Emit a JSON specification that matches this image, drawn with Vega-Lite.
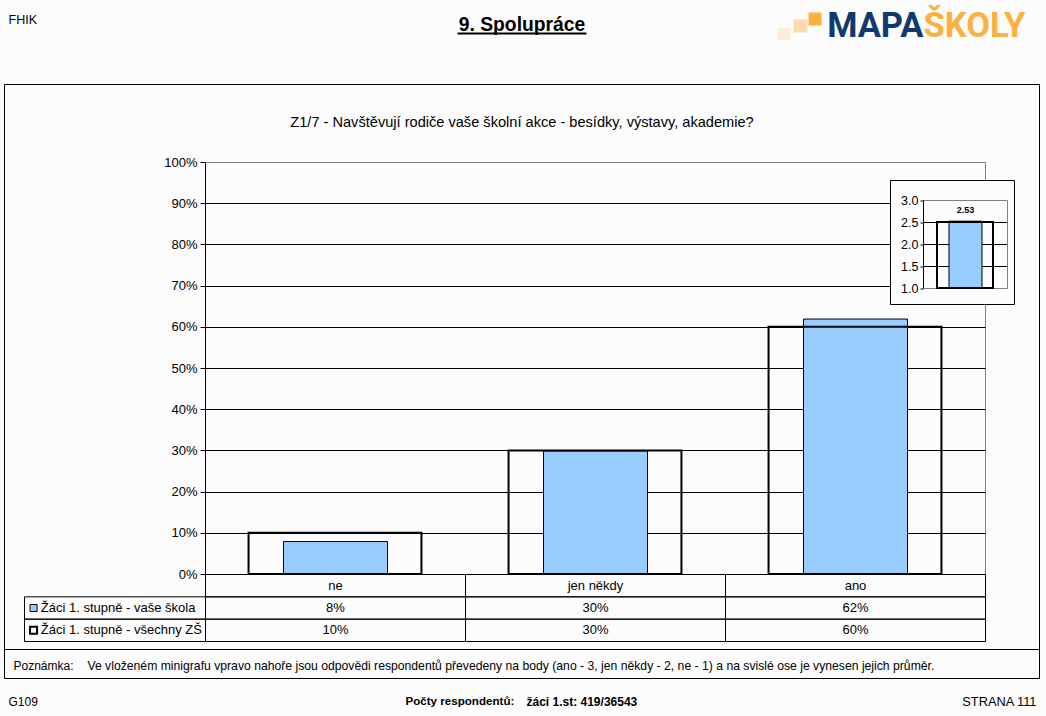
{
  "$schema": "https://vega.github.io/schema/vega-lite/v6.json",
  "autosize": "none",
  "padding": {"left": 205, "top": 162, "right": 61, "bottom": 142},
  "width": 780,
  "height": 412,
  "background": "#fcfcfc",
  "view": {"stroke": "#808080"},
  "config": {
    "font": "Liberation Sans",
    "text": {"font": "Liberation Sans", "fontSize": 13, "baseline": "middle", "color": "#000000"}
  },
  "data": {"values": [{"item": "page"}]},
  "resolve": {"scale": {"x": "independent", "y": "independent"}},
  "layer": [
    {
      "data": {"values": [
        {"answer": "ne", "share": 0.08},
        {"answer": "jen někdy", "share": 0.30},
        {"answer": "ano", "share": 0.62}
      ]},
      "mark": {"type": "bar", "width": {"band": 0.4}, "fill": "#99ccff", "stroke": "#000000", "strokeWidth": 1},
      "encoding": {
        "x": {"field": "answer", "type": "nominal", "axis": null,
          "scale": {"domain": ["ne", "jen někdy", "ano"], "range": [0.5, 780.5], "paddingInner": 0, "paddingOuter": 0}},
        "y": {"field": "share", "type": "quantitative", "axis": null,
          "scale": {"domain": [0, 1], "range": [412.5, 0.5], "nice": false}}
      }
    },
    {
      "data": {"values": [
        {"answer": "ne", "share": 0.10},
        {"answer": "jen někdy", "share": 0.30},
        {"answer": "ano", "share": 0.60}
      ]},
      "mark": {"type": "bar", "width": {"band": 0.665}, "fill": "transparent", "stroke": "#000000", "strokeWidth": 2},
      "encoding": {
        "x": {"field": "answer", "type": "nominal", "axis": null,
          "scale": {"domain": ["ne", "jen někdy", "ano"], "range": [0, 780], "paddingInner": 0, "paddingOuter": 0}},
        "y": {"field": "share", "type": "quantitative",
          "scale": {"domain": [0, 1], "nice": false},
          "axis": {"orient": "left", "title": null, "format": ".0%", "values": [0, 0.1, 0.2, 0.3, 0.4, 0.5, 0.6, 0.7, 0.8, 0.9, 1],
            "grid": true, "gridColor": {"condition": {"test": "datum.value == 1", "value": "#808080"}, "value": "#000000"}, "gridOpacity": 1,
            "domainColor": "#000000", "tickColor": "#000000", "tickSize": 5,
            "labelColor": "#000000", "labelFont": "Liberation Sans", "labelFontSize": 13, "labelPadding": 3}}
      }
    },
    {
      "data": {"values": [
        {"answer": "ne", "row": "head", "label": "ne"},
        {"answer": "jen někdy", "row": "head", "label": "jen někdy"},
        {"answer": "ano", "row": "head", "label": "ano"},
        {"answer": "ne", "row": "skola", "label": "8%"},
        {"answer": "jen někdy", "row": "skola", "label": "30%"},
        {"answer": "ano", "row": "skola", "label": "62%"},
        {"answer": "ne", "row": "vsechny", "label": "10%"},
        {"answer": "jen někdy", "row": "vsechny", "label": "30%"},
        {"answer": "ano", "row": "vsechny", "label": "60%"}
      ]},
      "encoding": {
        "x": {"field": "answer", "type": "nominal", "axis": null,
          "scale": {"domain": ["ne", "jen někdy", "ano"], "range": [0.5, 780.5], "paddingInner": 0, "paddingOuter": 0}},
        "y": {"field": "row", "type": "nominal", "axis": null,
          "scale": {"domain": ["head", "skola", "vsechny"], "range": [412.5, 479.5], "paddingInner": 0, "paddingOuter": 0}}
      },
      "layer": [
        {"mark": {"type": "rect", "fill": "transparent", "stroke": "#000000", "strokeWidth": 1}},
        {"mark": {"type": "text", "align": "center"}, "encoding": {"text": {"field": "label"}}}
      ]
    },
    {
      "data": {"values": [
        {"col": "legend", "row": "skola", "label": "Žáci 1. stupně - vaše škola"},
        {"col": "legend", "row": "vsechny", "label": "Žáci 1. stupně - všechny ZŠ"}
      ]},
      "encoding": {
        "x": {"field": "col", "type": "nominal", "axis": null,
          "scale": {"domain": ["legend"], "range": [-180.5, 0.5], "paddingInner": 0, "paddingOuter": 0}},
        "y": {"field": "row", "type": "nominal", "axis": null,
          "scale": {"domain": ["head", "skola", "vsechny"], "range": [412.5, 479.5], "paddingInner": 0, "paddingOuter": 0}}
      },
      "layer": [
        {"mark": {"type": "rect", "fill": "transparent", "stroke": "#000000", "strokeWidth": 1}},
        {"mark": {"type": "text", "align": "left"},
          "encoding": {
            "text": {"field": "label"},
            "x": {"field": "col", "type": "nominal", "bandPosition": 0.09, "axis": null,
              "scale": {"domain": ["legend"], "range": [-180.5, 0.5], "paddingInner": 0, "paddingOuter": 0}}
          }},
        {"transform": [{"filter": "datum.row == 'skola'"}],
          "mark": {"type": "point", "shape": "square", "size": 49, "filled": true, "fill": "#99ccff", "stroke": "#000000", "strokeWidth": 1, "opacity": 1},
          "encoding": {"x": {"field": "col", "type": "nominal", "bandPosition": 0.05, "axis": null,
            "scale": {"domain": ["legend"], "range": [-180.5, 0.5], "paddingInner": 0, "paddingOuter": 0}}}},
        {"transform": [{"filter": "datum.row == 'vsechny'"}],
          "mark": {"type": "point", "shape": "square", "size": 49, "filled": false, "stroke": "#000000", "strokeWidth": 2, "opacity": 1},
          "encoding": {"x": {"field": "col", "type": "nominal", "bandPosition": 0.05, "axis": null,
            "scale": {"domain": ["legend"], "range": [-180.5, 0.5], "paddingInner": 0, "paddingOuter": 0}}}}
      ]
    },
    {
      "layer": [
        {"mark": {"type": "rect", "fill": "transparent", "stroke": "#000000", "strokeWidth": 1},
          "encoding": {
            "x": {"datum": 4, "type": "quantitative", "axis": null, "scale": {"domain": [0, 1046], "range": [-204.5, 841.5]}},
            "x2": {"datum": 1039},
            "y": {"datum": 84, "type": "quantitative", "axis": null, "scale": {"domain": [0, 716], "range": [-161.5, 554.5]}},
            "y2": {"datum": 678}
          }},
        {"mark": {"type": "rule", "stroke": "#000000", "strokeWidth": 1},
          "encoding": {
            "x": {"datum": 4, "type": "quantitative", "axis": null, "scale": {"domain": [0, 1046], "range": [-204.5, 841.5]}},
            "x2": {"datum": 1039},
            "y": {"datum": 649, "type": "quantitative", "axis": null, "scale": {"domain": [0, 716], "range": [-161.5, 554.5]}}
          }},
        {"mark": {"type": "rule", "stroke": "#000000", "strokeWidth": 2},
          "encoding": {
            "x": {"datum": 457, "type": "quantitative", "axis": null, "scale": {"domain": [0, 1046], "range": [-204.5, 841.5]}},
            "x2": {"datum": 586},
            "y": {"datum": 33, "type": "quantitative", "axis": null, "scale": {"domain": [0, 716], "range": [-161.5, 554.5]}}
          }},
        {"mark": {"type": "rect", "fill": "#fdeed9"},
          "encoding": {
            "x": {"datum": 777, "type": "quantitative", "axis": null, "scale": {"domain": [0, 1046], "range": [-205, 841]}},
            "x2": {"datum": 790},
            "y": {"datum": 27, "type": "quantitative", "axis": null, "scale": {"domain": [0, 716], "range": [-162, 554]}},
            "y2": {"datum": 40}
          }},
        {"mark": {"type": "rect", "fill": "#fcdcae"},
          "encoding": {
            "x": {"datum": 793, "type": "quantitative", "axis": null, "scale": {"domain": [0, 1046], "range": [-205, 841]}},
            "x2": {"datum": 807},
            "y": {"datum": 19, "type": "quantitative", "axis": null, "scale": {"domain": [0, 716], "range": [-162, 554]}},
            "y2": {"datum": 32}
          }},
        {"mark": {"type": "rect", "fill": "#fbb040"},
          "encoding": {
            "x": {"datum": 808, "type": "quantitative", "axis": null, "scale": {"domain": [0, 1046], "range": [-205, 841]}},
            "x2": {"datum": 821},
            "y": {"datum": 12, "type": "quantitative", "axis": null, "scale": {"domain": [0, 716], "range": [-162, 554]}},
            "y2": {"datum": 25}
          }},
        {"mark": {"type": "text", "text": "MAPA", "align": "right", "font": "Roboto", "fontWeight": "bold", "fontSize": 34.5, "color": "#0f3a6e"},
          "encoding": {
            "x": {"datum": 923, "type": "quantitative", "axis": null, "scale": {"domain": [0, 1046], "range": [-205, 841]}},
            "y": {"datum": 26.5, "type": "quantitative", "axis": null, "scale": {"domain": [0, 716], "range": [-162, 554]}}
          }},
        {"mark": {"type": "text", "text": "ŠKOLY", "align": "left", "font": "Roboto", "fontWeight": "bold", "fontSize": 34.5, "color": "#fbb040"},
          "encoding": {
            "x": {"datum": 923, "type": "quantitative", "axis": null, "scale": {"domain": [0, 1046], "range": [-205, 841]}},
            "y": {"datum": 26.5, "type": "quantitative", "axis": null, "scale": {"domain": [0, 716], "range": [-162, 554]}}
          }},
        {"mark": {"type": "text", "text": "FHIK", "align": "left", "fontSize": 12.5},
          "encoding": {
            "x": {"datum": 8, "type": "quantitative", "axis": null, "scale": {"domain": [0, 1046], "range": [-205, 841]}},
            "y": {"datum": 19, "type": "quantitative", "axis": null, "scale": {"domain": [0, 716], "range": [-162, 554]}}
          }},
        {"mark": {"type": "text", "text": "9. Spolupráce", "align": "center", "fontSize": 19.3, "fontWeight": "bold"},
          "encoding": {
            "x": {"datum": 521.5, "type": "quantitative", "axis": null, "scale": {"domain": [0, 1046], "range": [-205, 841]}},
            "y": {"datum": 24, "type": "quantitative", "axis": null, "scale": {"domain": [0, 716], "range": [-162, 554]}}
          }},
        {"mark": {"type": "text", "text": "Z1/7 - Navštěvují rodiče vaše školní akce - besídky, výstavy, akademie?", "align": "center", "fontSize": 14.6},
          "encoding": {
            "x": {"datum": 521.5, "type": "quantitative", "axis": null, "scale": {"domain": [0, 1046], "range": [-205, 841]}},
            "y": {"datum": 122, "type": "quantitative", "axis": null, "scale": {"domain": [0, 716], "range": [-162, 554]}}
          }},
        {"mark": {"type": "text", "text": "Poznámka:", "align": "left", "fontSize": 12},
          "encoding": {
            "x": {"datum": 13, "type": "quantitative", "axis": null, "scale": {"domain": [0, 1046], "range": [-205, 841]}},
            "y": {"datum": 665, "type": "quantitative", "axis": null, "scale": {"domain": [0, 716], "range": [-162, 554]}}
          }},
        {"mark": {"type": "text", "text": "Ve vloženém minigrafu vpravo nahoře jsou odpovědi respondentů převedeny na body (ano - 3, jen někdy - 2, ne - 1) a na svislé ose je vynesen jejich průměr.", "align": "left", "fontSize": 12.2},
          "encoding": {
            "x": {"datum": 87, "type": "quantitative", "axis": null, "scale": {"domain": [0, 1046], "range": [-205, 841]}},
            "y": {"datum": 665, "type": "quantitative", "axis": null, "scale": {"domain": [0, 716], "range": [-162, 554]}}
          }},
        {"mark": {"type": "text", "text": "G109", "align": "left", "fontSize": 12},
          "encoding": {
            "x": {"datum": 8, "type": "quantitative", "axis": null, "scale": {"domain": [0, 1046], "range": [-205, 841]}},
            "y": {"datum": 701, "type": "quantitative", "axis": null, "scale": {"domain": [0, 716], "range": [-162, 554]}}
          }},
        {"mark": {"type": "text", "text": "Počty respondentů:", "align": "left", "fontSize": 11.6, "fontWeight": "bold"},
          "encoding": {
            "x": {"datum": 405, "type": "quantitative", "axis": null, "scale": {"domain": [0, 1046], "range": [-205, 841]}},
            "y": {"datum": 701, "type": "quantitative", "axis": null, "scale": {"domain": [0, 716], "range": [-162, 554]}}
          }},
        {"mark": {"type": "text", "text": "žáci 1.st: 419/36543", "align": "left", "fontSize": 12, "fontWeight": "bold"},
          "encoding": {
            "x": {"datum": 526, "type": "quantitative", "axis": null, "scale": {"domain": [0, 1046], "range": [-205, 841]}},
            "y": {"datum": 701, "type": "quantitative", "axis": null, "scale": {"domain": [0, 716], "range": [-162, 554]}}
          }},
        {"mark": {"type": "text", "text": "STRANA 111", "align": "right", "fontSize": 12.8},
          "encoding": {
            "x": {"datum": 1036, "type": "quantitative", "axis": null, "scale": {"domain": [0, 1046], "range": [-205, 841]}},
            "y": {"datum": 701, "type": "quantitative", "axis": null, "scale": {"domain": [0, 716], "range": [-162, 554]}}
          }},
        {"mark": {"type": "rect", "fill": "#fcfcfc", "stroke": "#000000", "strokeWidth": 1},
          "encoding": {
            "x": {"datum": 890, "type": "quantitative", "axis": null, "scale": {"domain": [0, 1046], "range": [-204.5, 841.5]}},
            "x2": {"datum": 1014},
            "y": {"datum": 180, "type": "quantitative", "axis": null, "scale": {"domain": [0, 716], "range": [-161.5, 554.5]}},
            "y2": {"datum": 304}
          }}
      ]
    },
    {
      "data": {"values": [{"tick": 1.5}, {"tick": 2}, {"tick": 2.5}]},
      "mark": {"type": "rule", "stroke": "#000000", "strokeWidth": 1},
      "encoding": {
        "x": {"datum": 0, "type": "quantitative", "axis": null, "scale": {"domain": [0, 1], "range": [718.5, 802.5]}},
        "x2": {"datum": 1},
        "y": {"field": "tick", "type": "quantitative", "axis": null,
          "scale": {"domain": [1, 3], "range": [126.5, 38.5], "nice": false, "zero": false}}
      }
    },
    {
      "mark": {"type": "rect", "fill": "transparent", "stroke": "#808080", "strokeWidth": 1},
      "encoding": {
        "x": {"datum": 0, "type": "quantitative", "axis": null, "scale": {"domain": [0, 1], "range": [718.5, 802.5]}},
        "x2": {"datum": 1},
        "y": {"datum": 1, "type": "quantitative",
          "scale": {"domain": [1, 3], "range": [126.5, 38.5], "nice": false, "zero": false},
          "axis": {"orient": "left", "offset": -718.5, "translate": 0, "zindex": 1, "title": null, "format": ".1f", "values": [1, 1.5, 2, 2.5, 3], "grid": false,
            "domainColor": "#000000", "tickColor": "#000000", "tickSize": 3, "labelColor": "#000000", "labelFont": "Liberation Sans", "labelFontSize": 12.5, "labelPadding": 2}},
        "y2": {"datum": 3}
      }
    },
    {
      "data": {"values": [{"slot": "průměr", "mean": 2.53, "base": 1, "mean_label": "2.53"}]},
      "encoding": {
        "x": {"field": "slot", "type": "nominal", "axis": null, "scale": {"domain": ["průměr"], "range": [718.5, 802.5], "paddingInner": 0, "paddingOuter": 0}},
        "y": {"field": "mean", "type": "quantitative", "axis": null, "scale": {"domain": [1, 3], "range": [126.5, 38.5], "nice": false, "zero": false}}
      },
      "layer": [
        {"mark": {"type": "bar", "width": {"band": 0.393}, "fill": "#99ccff", "stroke": "#000000", "strokeWidth": 1},
          "encoding": {"y2": {"field": "base"}}},
        {"mark": {"type": "text", "align": "center", "fontSize": 9, "fontWeight": "bold", "dy": -11},
          "encoding": {"text": {"field": "mean_label"}}}
      ]
    },
    {
      "data": {"values": [{"slot": "průměr", "mean": 2.5, "base": 1}]},
      "mark": {"type": "bar", "width": {"band": 0.667}, "fill": "transparent", "stroke": "#000000", "strokeWidth": 2},
      "encoding": {
        "x": {"field": "slot", "type": "nominal", "axis": null, "scale": {"domain": ["průměr"], "range": [718, 802], "paddingInner": 0, "paddingOuter": 0}},
        "y": {"field": "mean", "type": "quantitative", "axis": null, "scale": {"domain": [1, 3], "range": [126, 38], "nice": false, "zero": false}},
        "y2": {"field": "base"}
      }
    }
  ]
}
